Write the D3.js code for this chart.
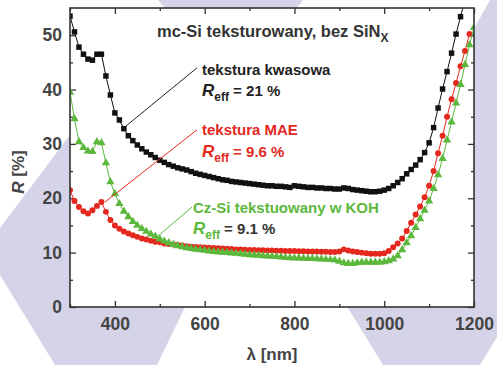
<!DOCTYPE html>
<html lang="pl">
<head>
<meta charset="UTF-8">
<title>Reflektancja mc-Si</title>
<script src="https://cdn.jsdelivr.net/npm/d3@7"></script>
<style>
  body { margin: 0; background: #fff; }
  svg { display: block; font-family: "Liberation Sans", Arial, sans-serif; }
</style>
</head>
<body>
<svg width="497" height="365"></svg>
<script>
// wavelength grid [nm]
const wavelengths = [
  300, 310, 320, 330, 340, 350, 360, 370, 380, 390,
  400, 410, 420, 430, 440, 450, 460, 470, 480, 490,
  500, 510, 520, 530, 540, 550, 560, 570, 580, 590,
  600, 610, 620, 630, 640, 650, 660, 670, 680, 690,
  700, 710, 720, 730, 740, 750, 760, 770, 780, 790,
  800, 810, 820, 830, 840, 850, 860, 870, 880, 890,
  900, 910, 920, 930, 940, 950, 960, 970, 980, 990,
  1000, 1010, 1020, 1030, 1040, 1050, 1060, 1070, 1080, 1090,
  1100, 1110, 1120, 1130, 1140, 1150, 1160, 1170, 1180, 1190,
  1200
];

// tekstura kwasowa (black), 300..1180
const acidR = [
  53.5, 50.6, 47.8, 46.5, 45.6, 45.4, 46.5, 46.5, 42.5, 39.0,
  35.7, 34.4, 32.8, 31.5, 30.6, 29.8, 29.1, 28.5, 28.0, 27.5,
  27.0, 26.6, 26.2, 25.9, 25.6, 25.4, 25.2, 24.9, 24.6, 24.4,
  24.2, 24.0, 23.8, 23.6, 23.4, 23.3, 23.1, 23.0, 22.9, 22.8,
  22.7, 22.6, 22.5, 22.4, 22.3, 22.3, 22.2, 22.2, 22.1, 22.0,
  22.3, 22.2, 22.1, 22.0, 22.0, 21.9, 21.9, 21.8, 21.8, 21.7,
  21.7, 21.9, 21.8, 21.6, 21.5, 21.4, 21.3, 21.2, 21.2, 21.3,
  21.5, 21.8, 22.3, 22.9, 23.6, 24.5, 25.3, 26.1, 27.1, 28.4,
  30.2, 33.0, 36.6, 40.1, 43.3, 46.7, 50.2, 53.4, 56.6
];

// tekstura MAE (red), 300..1190
const maeR = [
  21.5, 19.5, 18.4, 17.6, 17.2, 17.8, 18.6, 19.3, 17.5, 16.0,
  15.0, 14.4, 13.9, 13.5, 13.2, 12.9, 12.6, 12.4, 12.2, 12.0,
  11.9, 11.7, 11.6, 11.5, 11.4, 11.3, 11.2, 11.1, 11.05, 11.0,
  10.95, 10.9, 10.85, 10.8, 10.75, 10.7, 10.65, 10.6, 10.6, 10.55,
  10.5, 10.5, 10.45, 10.45, 10.4, 10.4, 10.35, 10.35, 10.3, 10.3,
  10.3, 10.25, 10.25, 10.2, 10.2, 10.2, 10.15, 10.15, 10.1, 10.1,
  10.2, 10.6, 10.4, 10.2, 10.1, 10.0, 9.9, 9.8, 9.8, 9.8,
  9.9, 10.3, 11.0, 11.7, 12.6, 14.0, 15.5, 17.0, 18.5, 20.2,
  22.3, 25.0, 28.3, 31.5, 35.0, 38.2, 41.2, 44.3, 47.1, 50.2
];

// Cz-Si teksturowany w KOH (green), 300..1200
const kohR = [
  39.5, 34.6, 30.4, 29.3, 28.7, 28.6, 30.4, 30.2, 26.5, 23.0,
  20.8, 19.0, 17.6, 16.6, 15.7, 15.0, 14.4, 13.9, 13.4, 13.0,
  12.5, 12.1, 11.8, 11.5, 11.25, 11.05, 10.9, 10.75, 10.6, 10.5,
  10.4, 10.3, 10.2, 10.1, 10.05, 10.0, 9.9, 9.85, 9.8, 9.7,
  9.6, 9.55, 9.5, 9.4, 9.35, 9.3, 9.25, 9.2, 9.1, 9.05,
  9.0, 9.0, 8.95, 8.9, 8.9, 8.85, 8.8, 8.75, 8.7, 8.65,
  8.4, 8.1, 8.0, 8.0, 8.1, 8.2, 8.2, 8.2, 8.2, 8.2,
  8.3, 8.5, 8.8, 9.4, 10.5, 11.8, 13.1, 14.6, 16.2, 17.8,
  19.5, 21.8, 24.3, 27.3, 30.7, 34.0, 37.5, 40.9, 44.6, 48.2,
  51.4
];

const xMajor = [400, 600, 800, 1000, 1200];
const xMinor = [300, 500, 700, 900, 1100];
const yMajor = [0, 10, 20, 30, 40, 50];
const yMinor = [5, 15, 25, 35, 45];

const svg = d3.select("svg");
const plot = { left: 70, right: 474, top: 8, bottom: 307 };

const x = d3.scaleLinear().domain([300, 1200]).range([plot.left, plot.right]);
const y = d3.scaleLinear().domain([0, 55]).range([plot.bottom, plot.top]);

// lavender decoration behind the chart
const lav = "#d5d3e8";
const shapes = [
  [[158, 0], [303, 0], [236, 90]],
  [[0, 228], [100, 95], [215, 245], [157, 365], [55, 365], [0, 275]],
  [[490, 0], [497, 0], [497, 337], [480, 365], [383, 365], [348, 308], [420, 120], [476, 25]]
];
svg.selectAll("polygon.bg").data(shapes).enter().append("polygon")
  .attr("class", "bg")
  .attr("points", d => d.map(p => p.join(",")).join(" "))
  .attr("fill", lav);

svg.append("rect")
  .attr("x", plot.left).attr("y", plot.top)
  .attr("width", plot.right - plot.left).attr("height", plot.bottom - plot.top)
  .attr("fill", "#fff");

svg.append("clipPath").attr("id", "clip").append("rect")
  .attr("x", plot.left).attr("y", plot.top)
  .attr("width", plot.right - plot.left).attr("height", plot.bottom - plot.top);

// axes (ticks pointing inwards, mirrored on top/right)
const tickCol = "#333";
function styleAxis(g) {
  g.select(".domain").remove();
  g.selectAll(".tick line").attr("stroke", tickCol).attr("stroke-width", 1.3);
  g.selectAll(".tick text")
    .attr("fill", "#444")
    .attr("font-size", 17.5)
    .attr("font-weight", "bold")
    .attr("font-family", "'Liberation Sans', Arial, sans-serif");
}

svg.append("g").attr("transform", `translate(0,${plot.bottom})`)
  .call(d3.axisBottom(x).tickValues(xMajor).tickSize(-6).tickPadding(11).tickFormat(d3.format("d")))
  .call(styleAxis);
svg.append("g").attr("transform", `translate(0,${plot.bottom})`)
  .call(d3.axisBottom(x).tickValues(xMinor).tickSize(-3).tickFormat(""))
  .call(styleAxis);
svg.append("g").attr("transform", `translate(0,${plot.top})`)
  .call(d3.axisTop(x).tickValues(xMajor).tickSize(-6).tickFormat(""))
  .call(styleAxis);
svg.append("g").attr("transform", `translate(0,${plot.top})`)
  .call(d3.axisTop(x).tickValues(xMinor).tickSize(-3).tickFormat(""))
  .call(styleAxis);

svg.append("g").attr("transform", `translate(${plot.left},0)`)
  .call(d3.axisLeft(y).tickValues(yMajor).tickSize(-6).tickPadding(8))
  .call(styleAxis);
svg.append("g").attr("transform", `translate(${plot.left},0)`)
  .call(d3.axisLeft(y).tickValues(yMinor).tickSize(-3).tickFormat(""))
  .call(styleAxis);
svg.append("g").attr("transform", `translate(${plot.right},0)`)
  .call(d3.axisRight(y).tickValues(yMajor).tickSize(-6).tickFormat(""))
  .call(styleAxis);
svg.append("g").attr("transform", `translate(${plot.right},0)`)
  .call(d3.axisRight(y).tickValues(yMinor).tickSize(-3).tickFormat(""))
  .call(styleAxis);

// series
const series = [
  { name: "acid", values: acidR, color: "#111111", symbol: d3.symbolSquare, size: 30 },
  { name: "mae", values: maeR, color: "#e5281e", symbol: d3.symbolCircle, size: 28 },
  { name: "koh", values: kohR, color: "#5cb83c", symbol: d3.symbolTriangle, size: 30 }
];

const line = d3.line().x(d => x(d[0])).y(d => y(d[1]));
const gData = svg.append("g").attr("clip-path", "url(#clip)");

series.forEach(s => {
  const pts = s.values.map((v, i) => [wavelengths[i], v]);
  gData.append("path")
    .datum(pts)
    .attr("d", line)
    .attr("fill", "none")
    .attr("stroke", s.color)
    .attr("stroke-width", 1);
  gData.selectAll("path.m-" + s.name).data(pts).enter().append("path")
    .attr("class", "m-" + s.name)
    .attr("transform", d => `translate(${x(d[0])},${y(d[1])})`)
    .attr("d", d3.symbol().type(s.symbol).size(s.size))
    .attr("fill", s.color);
});

// frame
svg.append("rect")
  .attr("x", plot.left).attr("y", plot.top)
  .attr("width", plot.right - plot.left).attr("height", plot.bottom - plot.top)
  .attr("fill", "none")
  .attr("stroke", tickCol)
  .attr("stroke-width", 1.6);

// axis titles
svg.append("text")
  .attr("x", (plot.left + plot.right) / 2).attr("y", 360)
  .attr("text-anchor", "middle")
  .attr("font-size", 17).attr("font-weight", "bold").attr("fill", "#444")
  .text("λ [nm]");

const yt = svg.append("text")
  .attr("transform", "translate(24,172) rotate(-90)")
  .attr("text-anchor", "middle")
  .attr("font-size", 17).attr("font-weight", "bold").attr("fill", "#444");
yt.append("tspan").attr("font-style", "italic").text("R");
yt.append("tspan").text(" [%]");

// title
const title = svg.append("text")
  .attr("x", 157).attr("y", 37)
  .attr("font-size", 16.5).attr("font-weight", "bold").attr("fill", "#333");
title.append("tspan").text("mc-Si teksturowany, bez SiN");
title.append("tspan").attr("dy", 5).attr("font-size", 12).text("X");

// annotations
function reff(px, py, color, valText, valColor) {
  const t = svg.append("text").attr("x", px).attr("y", py)
    .attr("font-size", 15).attr("font-weight", "bold");
  t.append("tspan").attr("fill", color).attr("font-style", "italic").attr("font-size", 17).text("R");
  t.append("tspan").attr("fill", color).attr("dy", 5).attr("font-size", 12).text("eff");
  t.append("tspan").attr("fill", valColor).attr("dy", -5).text(" = " + valText);
}
function label(px, py, color, txt) {
  svg.append("text").attr("x", px).attr("y", py)
    .attr("font-size", 15).attr("font-weight", "bold").attr("fill", color).text(txt);
}
function leader(a, b, color) {
  svg.append("line")
    .attr("x1", x(a[0])).attr("y1", y(a[1]))
    .attr("x2", x(b[0])).attr("y2", y(b[1]))
    .attr("stroke", color).attr("stroke-width", 1);
}

leader([583, 44.0], [422, 33.1], "#222");
label(202, 75, "#222", "tekstura kwasowa");
reff(202, 96, "#222", "21 %", "#222");

leader([583, 32.6], [378, 19.3], "#e5281e");
label(202, 135, "#e5281e", "tekstura MAE");
reff(202, 157, "#e5281e", "9.6 %", "#e5281e");

leader([572, 18.4], [494, 12.9], "#5cb83c");
label(193, 213, "#5cb83c", "Cz-Si tekstuowany w KOH");
reff(193, 234, "#5cb83c", "9.1 %", "#333");
</script>
</body>
</html>
